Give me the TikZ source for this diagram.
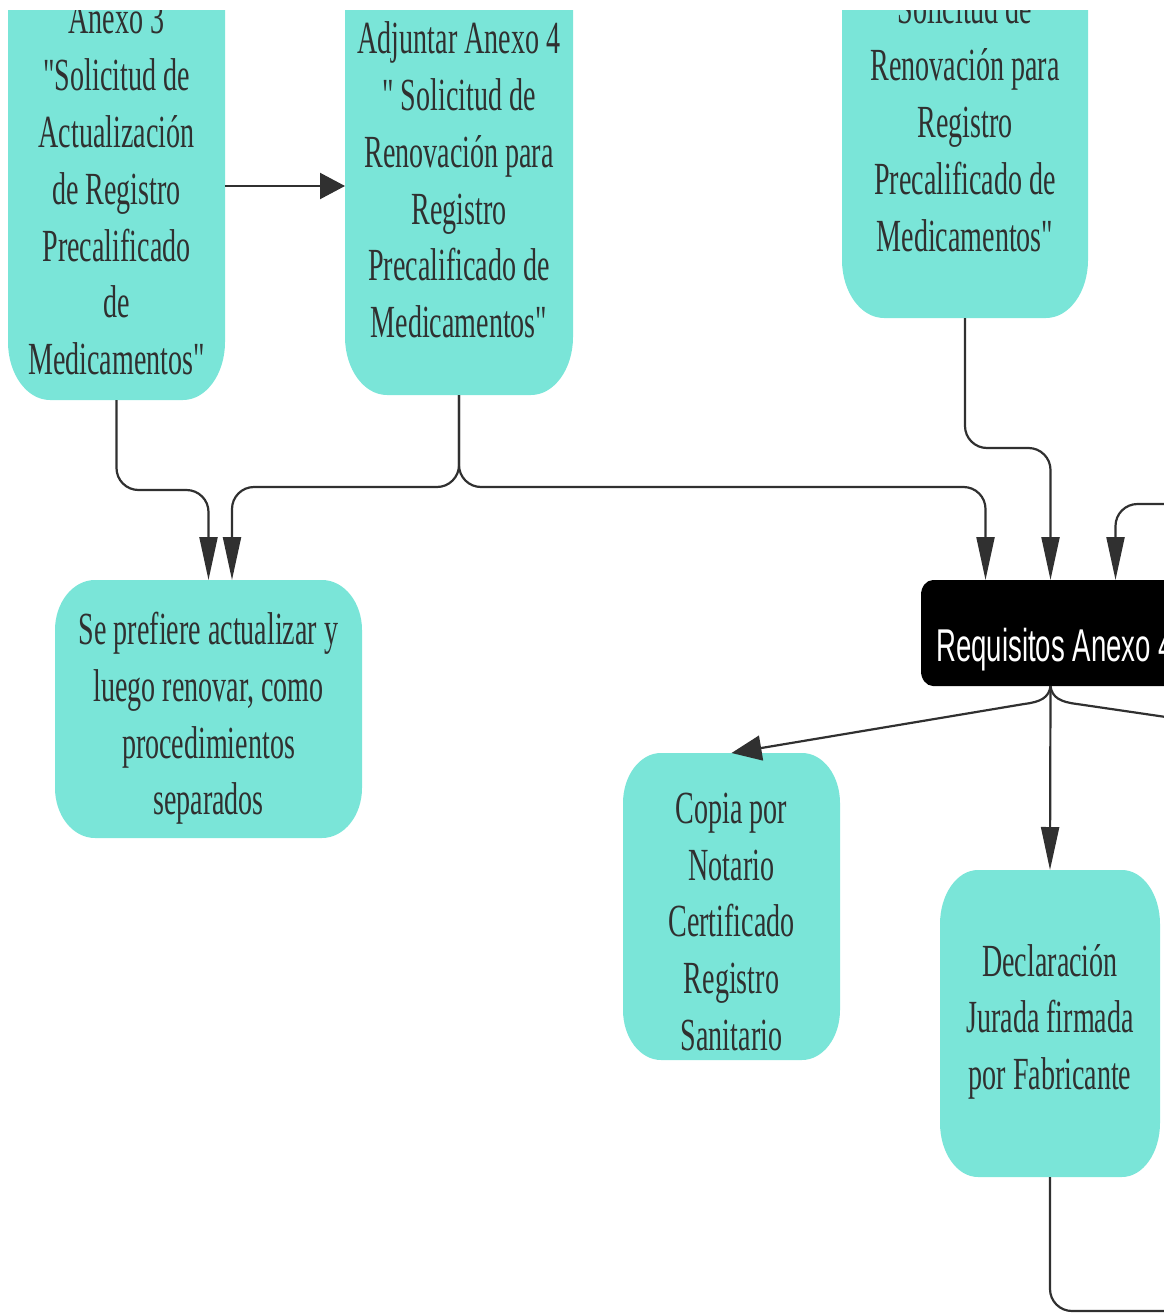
\documentclass[tikz,border=0pt]{standalone}
\usepackage{fontspec}
\setmainfont{Liberation Serif}
% narrow faces used inside the boxes
\newfontfamily\boxserif[FakeStretch=0.61,Ligatures=TeXOff]{Liberation Serif}
\newfontfamily\boxsans[FakeStretch=0.60,Ligatures=TeXOff]{Liberation Sans}
\usetikzlibrary{arrows.meta,calc}

\definecolor{tealfill}{HTML}{7AE5D8}
\definecolor{ink}{HTML}{303030}

% filled box with elliptical corners, sized by a named frame node
% #1 colour, #2 node, #3 x radius, #4 y radius
\newcommand\softbox[4][tealfill]{%
  \fill[#1] let \p1=(#2.south west), \p2=(#2.north east) in
    (\x1+#3,\y1) -- (\x2-#3,\y1)
    arc[start angle=-90,end angle=0,x radius=#3,y radius=#4]
    -- (\x2,\y2-#4)
    arc[start angle=0,end angle=90,x radius=#3,y radius=#4]
    -- (\x1+#3,\y2)
    arc[start angle=90,end angle=180,x radius=#3,y radius=#4]
    -- (\x1,\y1+#4)
    arc[start angle=180,end angle=270,x radius=#3,y radius=#4]
    -- cycle;}

\tikzset{
  frame/.style={inner sep=0pt, outer sep=0pt},
  boxtext/.style={inner sep=0pt, align=center, text=ink,
    font=\boxserif\fontsize{46}{56.8}\selectfont},
  link/.style={draw=ink, line width=2.2pt, rounded corners=22pt},
  vtip/.style={-{Triangle[length=43pt,width=18pt]}},
  htip/.style={-{Triangle[length=25pt,width=26pt]}},
  slanttip/.style={-{Triangle[length=30pt,width=25pt]}},
}

\begin{document}
\begin{tikzpicture}[x=1pt,y=-1pt]
\useasboundingbox (0,0) rectangle (1163,1314);

% box outlines (frames)
\node[frame, minimum width=217pt, minimum height=460pt] (A) at (116.5,170) {};
\node[frame, minimum width=228pt, minimum height=455pt] (B) at (459,167.5) {};
\node[frame, minimum width=246pt, minimum height=398pt] (C) at (965,119) {};
\node[frame, minimum width=307pt, minimum height=258pt] (D) at (208.5,709) {};
\node[frame, minimum width=259pt, minimum height=106pt] (E) at (1050.5,633) {};
\node[frame, minimum width=217pt, minimum height=307pt] (F) at (731.5,906.5) {};
\node[frame, minimum width=220pt, minimum height=307pt] (G) at (1050,1023.5) {};

% box fills
\softbox{A}{42pt}{58pt}
\softbox{B}{42pt}{58pt}
\softbox{C}{42pt}{58pt}
\softbox{D}{40pt}{50pt}
\softbox[black]{E}{12pt}{15pt}
\softbox{F}{38pt}{50pt}
\softbox{G}{38pt}{54pt}

% box texts
\node[boxtext] (At) at (116.5,189.2) {Anexo 3\\"Solicitud de\\Actualización\\de Registro\\Precalificado\\de\\Medicamentos"};
\node[boxtext] (Bt) at (459,180) {Adjuntar Anexo 4\\" Solicitud de\\Renovación para\\Registro\\Precalificado de\\Medicamentos"};
\node[boxtext] (Ct) at (965,121.8) {Solicitud de\\Renovación para\\Registro\\Precalificado de\\Medicamentos"};
\node[boxtext] (Dt) at (208.5,718.3) {Se prefiere actualizar y\\luego renovar, como\\procedimientos\\separados};
\node[anchor=base west, inner sep=0pt, text=white,
      font=\boxsans\fontsize{46}{52}\selectfont] (Et) at (936,661) {Requisitos Anexo 4};
\node[boxtext] (Ft) at (731.5,921.8) {Copia por\\Notario\\Certificado\\Registro\\Sanitario};
\node[boxtext] (Gt) at (1050,1021.8) {Declaración\\Jurada firmada\\por Fabricante};

% connectors
\coordinate (ab) at ($(A.east)+(0,16)$);
\draw[link, htip] (ab) -- (ab -| B.west);

\draw[link, vtip] (A.south) -- (116.5,490) -- (208.5,490) -- (D.north);
\draw[link, vtip] (B.south) -- (459,487) -- (232,487) -- ($(D.north)+(23.5,0)$);
\draw[link, vtip] (B.south) -- (459,487) -- (985.5,487) -- ($(E.north)+(-65,0)$);
\draw[link, vtip] (C.south) -- (965,448) -- (1050.5,448) -- (E.north);

\coordinate (inR) at (1200,504);
\draw[link, vtip] (inR) -- (1115.5,504) -- ($(E.north)+(65,0)$);

\draw[link, vtip] (E.south) -- (G.north);
\draw[link, sharp corners, slanttip] (E.south) .. controls (1049,698) and (1040,702) .. (1024,704) -- (F.north);

\coordinate (outR) at (1200,722);
\draw[link, sharp corners] (E.south) .. controls (1052,698) and (1061,702) .. (1077,704) -- (outR);

\coordinate (outB) at (1200,1311);
\draw[link] (G.south) -- (1050,1311) -- (outB);

% blank top margin
\fill[white] (-10,-200) rectangle (1173,10);
\end{tikzpicture}
\end{document}
